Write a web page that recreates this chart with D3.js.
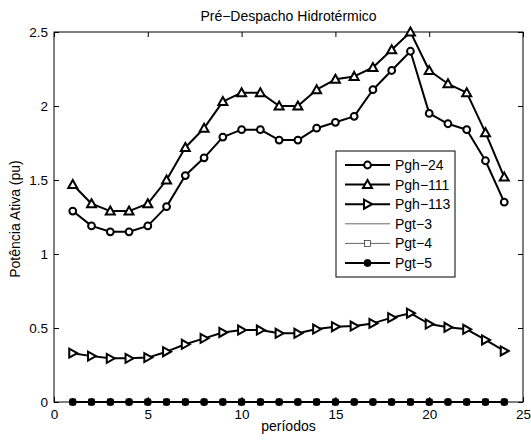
<!DOCTYPE html>
<html>
<head>
<meta charset="utf-8">
<script src="https://cdn.jsdelivr.net/npm/d3@7"></script>
<style>
  body { margin: 0; background: #fff; }
  svg text { font-family: "Liberation Sans", Arial, Helvetica, sans-serif; fill: #000; }
</style>
</head>
<body>
<div id="chart"></div>
<script>
// periods and series values
var periods = d3.range(1, 25);
var pgh24 = [1.29, 1.19, 1.15, 1.15, 1.19, 1.32, 1.53, 1.65, 1.79, 1.84, 1.84, 1.77, 1.77, 1.85, 1.89, 1.93, 2.11, 2.24, 2.37, 1.95, 1.88, 1.84, 1.63, 1.35];
var pgh111 = [1.47, 1.34, 1.29, 1.29, 1.34, 1.50, 1.72, 1.85, 2.03, 2.09, 2.09, 2.00, 2.00, 2.11, 2.18, 2.20, 2.26, 2.38, 2.50, 2.24, 2.15, 2.09, 1.82, 1.52];
var pgh113 = [0.33, 0.31, 0.295, 0.295, 0.30, 0.34, 0.39, 0.43, 0.47, 0.486, 0.486, 0.464, 0.464, 0.493, 0.509, 0.513, 0.531, 0.57, 0.60, 0.527, 0.505, 0.491, 0.419, 0.345];
var pgt3 = periods.map(function () { return 0; });
var pgt4 = periods.map(function () { return 0; });
var pgt5 = periods.map(function () { return 0; });

var seriesNames = ["Pgh\u221224", "Pgh\u2212111", "Pgh\u2212113", "Pgt\u22123", "Pgt\u22124", "Pgt\u22125"];
var seriesValues = [pgh24, pgh111, pgh113, pgt3, pgt4, pgt5];
var seriesMarkers = ["circle", "triangle", "right", "none", "square", "dot"];
var seriesWidths = [2, 2, 2, 0.6, 0.6, 2];

var xTicks = [0, 5, 10, 15, 20, 25];
var yTicks = [0, 0.5, 1, 1.5, 2, 2.5];

var width = 531, height = 440;
var margin = { top: 32, right: 8, bottom: 38, left: 54 };
var w = width - margin.left - margin.right;
var h = height - margin.top - margin.bottom;

var svg = d3.select("#chart").append("svg")
    .attr("width", width)
    .attr("height", height);

var g = svg.append("g")
    .attr("transform", "translate(" + margin.left + "," + margin.top + ")");

var xScale = d3.scaleLinear().domain([0, 25]).range([0, w]);
var yScale = d3.scaleLinear().domain([0, 2.5]).range([h, 0]);

// axes, matlab style: ticks inside on all sides
function styleAxis(sel) {
    sel.select(".domain").remove();
    sel.selectAll(".tick line").attr("stroke", "#000").attr("stroke-width", 1);
    sel.selectAll(".tick text").style("font-size", "13.5px");
}

g.append("g")
    .attr("transform", "translate(0," + h + ")")
    .call(d3.axisBottom(xScale).tickValues(xTicks).tickSize(-5).tickPadding(7).tickFormat(d3.format("d")))
    .call(styleAxis);

g.append("g")
    .call(d3.axisTop(xScale).tickValues(xTicks).tickSize(-5).tickFormat(""))
    .call(styleAxis);

g.append("g")
    .call(d3.axisLeft(yScale).tickValues(yTicks).tickSize(-5).tickPadding(6).tickFormat(function (d) { return d; }))
    .call(styleAxis);

g.append("g")
    .attr("transform", "translate(" + w + ",0)")
    .call(d3.axisRight(yScale).tickValues(yTicks).tickSize(-5).tickFormat(""))
    .call(styleAxis);

g.append("rect")
    .attr("width", w)
    .attr("height", h)
    .attr("fill", "none")
    .attr("stroke", "#000")
    .attr("stroke-width", 1);

// markers
function drawMarker(sel, type, cx, cy) {
    if (type == "circle") {
        sel.append("circle").attr("cx", cx).attr("cy", cy).attr("r", 3.4)
            .attr("fill", "#fff").attr("stroke", "#000").attr("stroke-width", 2);
    } else if (type == "triangle") {
        sel.append("path")
            .attr("d", "M" + cx + "," + (cy - 4.5) + "L" + (cx + 4.5) + "," + (cy + 3.5) + "L" + (cx - 4.5) + "," + (cy + 3.5) + "Z")
            .attr("fill", "#fff").attr("stroke", "#000").attr("stroke-width", 2);
    } else if (type == "right") {
        sel.append("path")
            .attr("d", "M" + (cx + 4.5) + "," + cy + "L" + (cx - 3.5) + "," + (cy - 4.5) + "L" + (cx - 3.5) + "," + (cy + 4.5) + "Z")
            .attr("fill", "#fff").attr("stroke", "#000").attr("stroke-width", 2);
    } else if (type == "square") {
        sel.append("rect").attr("x", cx - 3).attr("y", cy - 3).attr("width", 6).attr("height", 6)
            .attr("fill", "#fff").attr("stroke", "#000").attr("stroke-width", 0.6);
    } else if (type == "dot") {
        sel.append("circle").attr("cx", cx).attr("cy", cy).attr("r", 3.5)
            .attr("fill", "#000").attr("stroke", "#000").attr("stroke-width", 1);
    }
}

var line = d3.line()
    .x(function (d, i) { return xScale(periods[i]); })
    .y(function (d) { return yScale(d); });

seriesValues.forEach(function (vals, s) {
    var sg = g.append("g");
    sg.append("path")
        .datum(vals)
        .attr("d", line)
        .attr("fill", "none")
        .attr("stroke", "#000")
        .attr("stroke-width", seriesWidths[s])
        .attr("stroke-linejoin", "round");
    vals.forEach(function (v, i) {
        drawMarker(sg, seriesMarkers[s], xScale(periods[i]), yScale(v));
    });
});

// legend
var legend = svg.append("g").attr("transform", "translate(336,151)");
legend.append("rect")
    .attr("width", 119)
    .attr("height", 126)
    .attr("fill", "#fff")
    .attr("stroke", "#000")
    .attr("stroke-width", 1);

seriesNames.forEach(function (name, s) {
    var y = 14 + s * 19.6;
    legend.append("line")
        .attr("x1", 9).attr("x2", 54)
        .attr("y1", y).attr("y2", y)
        .attr("stroke", "#000")
        .attr("stroke-width", seriesWidths[s]);
    drawMarker(legend, seriesMarkers[s], 31.5, y);
    legend.append("text")
        .attr("x", 59)
        .attr("y", y + 5)
        .style("font-size", "14px")
        .text(name);
});

// labels
svg.append("text")
    .attr("x", 288.5)
    .attr("y", 21)
    .style("text-anchor", "middle")
    .style("font-size", "14px")
    .text("Pré\u2212Despacho Hidrotérmico");

svg.append("text")
    .attr("x", 288.5)
    .attr("y", 431)
    .style("text-anchor", "middle")
    .style("font-size", "14px")
    .text("períodos");

svg.append("text")
    .attr("transform", "rotate(-90)")
    .attr("x", -219)
    .attr("y", 20)
    .style("text-anchor", "middle")
    .style("font-size", "14px")
    .text("Potência Ativa (pu)");
</script>
</body>
</html>
